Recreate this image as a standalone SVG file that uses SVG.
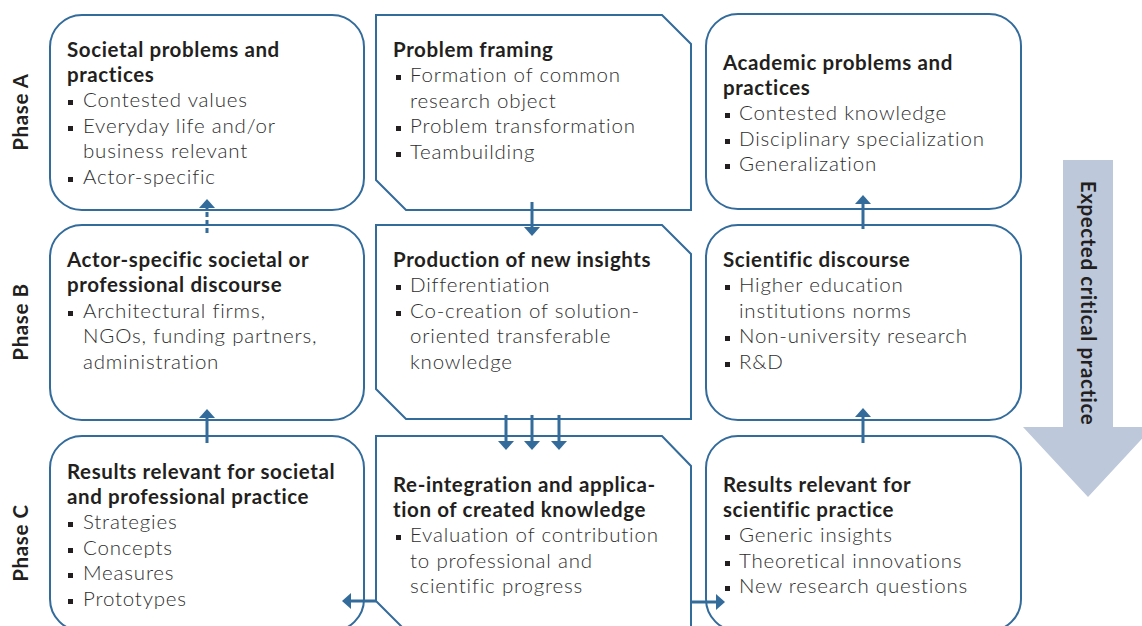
<svg xmlns="http://www.w3.org/2000/svg" width="1142" height="626" viewBox="0 0 1142 626">
  <style>
    .box { fill: #ffffff; stroke: #336b9b; stroke-width: 2; }
    .title { font-family: Lato, "Open Sans", "Liberation Sans", sans-serif; font-weight: 700; font-size: 20.5px; letter-spacing: 0.6px; fill: #231f20; }
    .item { font-family: Lato, "Open Sans", "Liberation Sans", sans-serif; font-weight: 300; font-size: 20.5px; letter-spacing: 0.8px; fill: #2e2e2e; }
    .bullet { fill: #231f20; }
    .phase { font-family: Lato, "Open Sans", "Liberation Sans", sans-serif; font-weight: 700; font-size: 20.5px; letter-spacing: 0.6px; fill: #231f20; text-anchor: middle; }
    .link { fill: none; stroke: #336b9b; stroke-width: 3; }
    .dotted { stroke-dasharray: 5 3; }
    .trend { fill: #bdc8db; }
  </style>
  <defs>
    <marker id="head" viewBox="0 0 9 16" refX="0" refY="8" markerUnits="userSpaceOnUse" markerWidth="9" markerHeight="16" orient="auto">
      <path d="M0,0 L9,8 L0,16 Z" fill="#336b9b"/>
    </marker>
  </defs>

  <rect width="1142" height="626" fill="#ffffff"/>

  <!-- phase labels -->
  <g id="phase-labels">
    <text class="phase" transform="translate(28,112) rotate(-90)">Phase A</text>
    <text class="phase" transform="translate(28,322) rotate(-90)">Phase B</text>
    <text class="phase" transform="translate(28,543) rotate(-90)">Phase C</text>
  </g>

  <!-- expected critical practice arrow -->
  <g id="critical-practice">
    <polygon class="trend" points="1063,160 1113,160 1113,427 1153,427 1088,497 1023,427 1063,427"/>
    <text class="phase" transform="translate(1081,303) rotate(90)">Expected critical practice</text>
  </g>

  <!-- phase A -->
  <g id="societal-problems">
    <rect class="box" x="50" y="15" width="314" height="195" rx="32"/>
    <text class="title" x="67" y="57">Societal problems and</text>
    <text class="title" x="67" y="82">practices</text>
    <rect class="bullet" x="68" y="100" width="5" height="5"/>
    <text class="item" x="83" y="107">Contested values</text>
    <rect class="bullet" x="68" y="126" width="5" height="5"/>
    <text class="item" x="83" y="133">Everyday life and/or</text>
    <text class="item" x="83" y="158">business relevant</text>
    <rect class="bullet" x="68" y="177" width="5" height="5"/>
    <text class="item" x="83" y="184">Actor-specific</text>
  </g>

  <g id="problem-framing">
    <path class="box" d="M376,15 H662 L691,44 V210 H406 L376,180 Z"/>
    <text class="title" x="393" y="57">Problem framing</text>
    <rect class="bullet" x="396" y="75" width="5" height="5"/>
    <text class="item" x="410" y="82">Formation of common</text>
    <text class="item" x="410" y="108">research object</text>
    <rect class="bullet" x="396" y="126" width="5" height="5"/>
    <text class="item" x="410" y="133">Problem transformation</text>
    <rect class="bullet" x="396" y="152" width="5" height="5"/>
    <text class="item" x="410" y="159">Teambuilding</text>
  </g>

  <g id="academic-problems">
    <rect class="box" x="706" y="14" width="315" height="195" rx="32"/>
    <text class="title" x="723" y="70">Academic problems and</text>
    <text class="title" x="723" y="95">practices</text>
    <rect class="bullet" x="725" y="113" width="5" height="5"/>
    <text class="item" x="739" y="120">Contested knowledge</text>
    <rect class="bullet" x="725" y="139" width="5" height="5"/>
    <text class="item" x="739" y="146">Disciplinary specialization</text>
    <rect class="bullet" x="725" y="164" width="5" height="5"/>
    <text class="item" x="739" y="171">Generalization</text>
  </g>

  <!-- phase B -->
  <g id="actor-discourse">
    <rect class="box" x="50" y="225" width="314" height="195" rx="32"/>
    <text class="title" x="67" y="267">Actor-specific societal or</text>
    <text class="title" x="67" y="292">professional discourse</text>
    <rect class="bullet" x="68" y="311" width="5" height="5"/>
    <text class="item" x="83" y="318">Architectural firms,</text>
    <text class="item" x="83" y="343">NGOs, funding partners,</text>
    <text class="item" x="83" y="369">administration</text>
  </g>

  <g id="new-insights">
    <path class="box" d="M376,225 H662 L691,254 V419 H406 L376,389 Z"/>
    <text class="title" x="393" y="267">Production of new insights</text>
    <rect class="bullet" x="396" y="285" width="5" height="5"/>
    <text class="item" x="410" y="292">Differentiation</text>
    <rect class="bullet" x="396" y="311" width="5" height="5"/>
    <text class="item" x="410" y="318">Co-creation of solution-</text>
    <text class="item" x="410" y="343">oriented transferable</text>
    <text class="item" x="410" y="369">knowledge</text>
  </g>

  <g id="scientific-discourse">
    <rect class="box" x="706" y="225" width="315" height="195" rx="32"/>
    <text class="title" x="723" y="267">Scientific discourse</text>
    <rect class="bullet" x="725" y="285" width="5" height="5"/>
    <text class="item" x="739" y="292">Higher education</text>
    <text class="item" x="739" y="318">institutions norms</text>
    <rect class="bullet" x="725" y="336" width="5" height="5"/>
    <text class="item" x="739" y="343">Non-university research</text>
    <rect class="bullet" x="725" y="362" width="5" height="5"/>
    <text class="item" x="739" y="369">R&amp;D</text>
  </g>

  <!-- phase C -->
  <g id="societal-results">
    <rect class="box" x="50" y="436" width="314" height="195" rx="32"/>
    <text class="title" x="67" y="479">Results relevant for societal</text>
    <text class="title" x="67" y="504">and professional practice</text>
    <rect class="bullet" x="68" y="522" width="5" height="5"/>
    <text class="item" x="83" y="529">Strategies</text>
    <rect class="bullet" x="68" y="548" width="5" height="5"/>
    <text class="item" x="83" y="555">Concepts</text>
    <rect class="bullet" x="68" y="573" width="5" height="5"/>
    <text class="item" x="83" y="580">Measures</text>
    <rect class="bullet" x="68" y="599" width="5" height="5"/>
    <text class="item" x="83" y="606">Prototypes</text>
  </g>

  <g id="re-integration">
    <path class="box" d="M376,436 H662 L691,466 V631 H406 L376,601 Z"/>
    <text class="title" x="393" y="492">Re-integration and applica-</text>
    <text class="title" x="393" y="517">tion of created knowledge</text>
    <rect class="bullet" x="396" y="535" width="5" height="5"/>
    <text class="item" x="410" y="542">Evaluation of contribution</text>
    <text class="item" x="410" y="568">to professional and</text>
    <text class="item" x="410" y="593">scientific progress</text>
  </g>

  <g id="scientific-results">
    <rect class="box" x="706" y="436" width="315" height="195" rx="32"/>
    <text class="title" x="723" y="492">Results relevant for</text>
    <text class="title" x="723" y="517">scientific practice</text>
    <rect class="bullet" x="725" y="535" width="5" height="5"/>
    <text class="item" x="739" y="542">Generic insights</text>
    <rect class="bullet" x="725" y="561" width="5" height="5"/>
    <text class="item" x="739" y="568">Theoretical innovations</text>
    <rect class="bullet" x="725" y="586" width="5" height="5"/>
    <text class="item" x="739" y="593">New research questions</text>
  </g>

  <!-- connectors -->
  <g id="connectors">
    <line class="link dotted" x1="207" y1="233" x2="207" y2="208" marker-end="url(#head)"/>
    <line class="link" x1="207" y1="443" x2="207" y2="418" marker-end="url(#head)"/>
    <line class="link" x1="532" y1="202" x2="532" y2="227" marker-end="url(#head)"/>
    <line class="link" x1="506" y1="415" x2="506" y2="441" marker-end="url(#head)"/>
    <line class="link" x1="532" y1="415" x2="532" y2="441" marker-end="url(#head)"/>
    <line class="link" x1="559" y1="415" x2="559" y2="441" marker-end="url(#head)"/>
    <line class="link" x1="863" y1="229" x2="863" y2="204" marker-end="url(#head)"/>
    <line class="link" x1="863" y1="443" x2="863" y2="417" marker-end="url(#head)"/>
    <line class="link" x1="376" y1="601" x2="351" y2="601" marker-end="url(#head)"/>
    <line class="link" x1="691" y1="602" x2="716" y2="602" marker-end="url(#head)"/>
  </g>
</svg>
